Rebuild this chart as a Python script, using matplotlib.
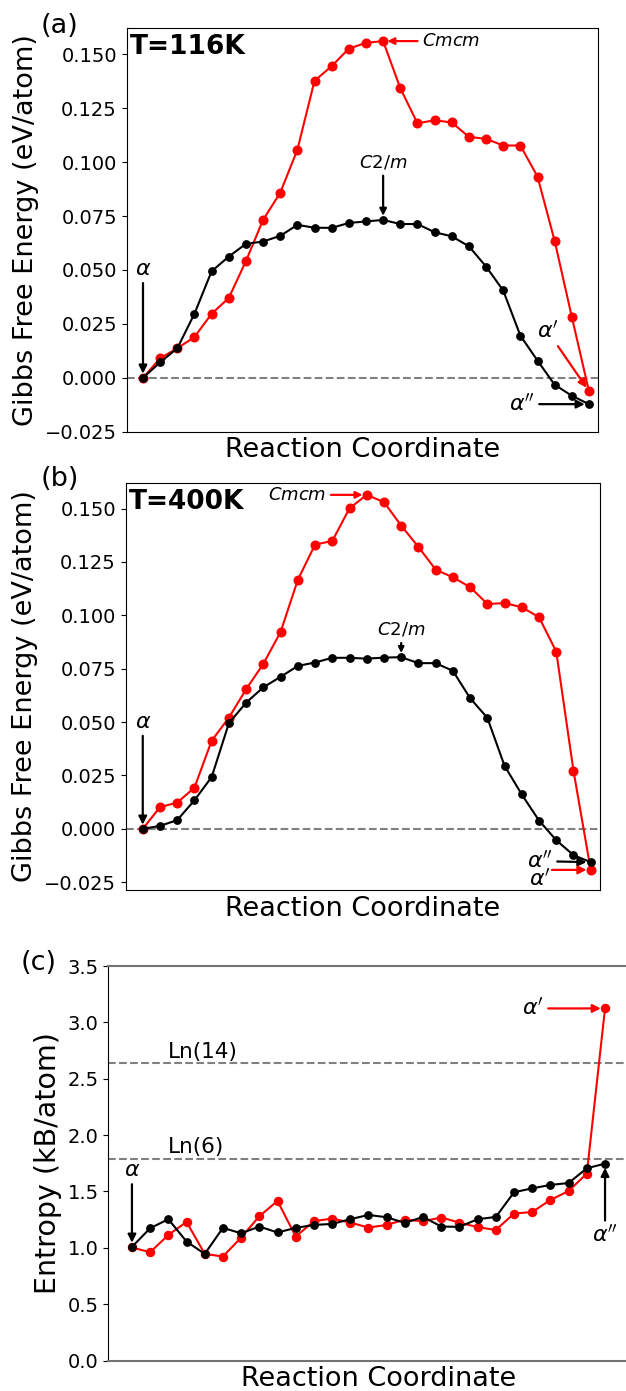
import numpy as np
import matplotlib
matplotlib.use("Agg")
import matplotlib.pyplot as plt

# ---------- data ----------
image = np.arange(27)   # NEB image index along the reaction coordinate

g116_black = [0.0000, 0.0072, 0.0137, 0.0297, 0.0494, 0.0562, 0.0621, 0.0632, 0.0658,
              0.0709, 0.0696, 0.0695, 0.0718, 0.0725, 0.0732, 0.0713, 0.0713, 0.0675,
              0.0656, 0.0610, 0.0516, 0.0405, 0.0196, 0.0080, -0.0032, -0.0083, -0.0122]
g116_red = [0.0000, 0.0091, 0.0137, 0.0189, 0.0297, 0.0370, 0.0541, 0.0732, 0.0858,
            0.1057, 0.1377, 0.1445, 0.1526, 0.1553, 0.1561, 0.1343, 0.1180, 0.1194,
            0.1184, 0.1117, 0.1108, 0.1077, 0.1077, 0.0933, 0.0635, 0.0283, -0.0062]

g400_black = [0.0000, 0.0014, 0.0041, 0.0134, 0.0243, 0.0495, 0.0591, 0.0663, 0.0712,
              0.0763, 0.0779, 0.0801, 0.0801, 0.0797, 0.0802, 0.0804, 0.0776, 0.0776,
              0.0740, 0.0612, 0.0520, 0.0295, 0.0161, 0.0039, -0.0053, -0.0123, -0.0156]
g400_red = [0.0000, 0.0102, 0.0123, 0.0193, 0.0413, 0.0521, 0.0654, 0.0773, 0.0922,
            0.1166, 0.1331, 0.1348, 0.1501, 0.1564, 0.1530, 0.1420, 0.1320, 0.1214,
            0.1178, 0.1132, 0.1053, 0.1057, 0.1038, 0.0991, 0.0830, 0.0272, -0.0192]

s_black = [1.008, 1.174, 1.254, 1.056, 0.946, 1.177, 1.129, 1.189, 1.136, 1.177,
           1.203, 1.212, 1.254, 1.292, 1.271, 1.221, 1.274, 1.189, 1.186, 1.254,
           1.274, 1.493, 1.528, 1.558, 1.575, 1.706, 1.747]
s_red = [1.003, 0.961, 1.114, 1.230, 0.946, 0.923, 1.091, 1.280, 1.416, 1.100,
         1.236, 1.260, 1.224, 1.180, 1.203, 1.251, 1.236, 1.269, 1.224, 1.183,
         1.159, 1.304, 1.318, 1.425, 1.504, 1.659, 3.124]

ln14, ln6 = np.log(14), np.log(6)

# ---------- style ----------
plt.rcParams.update({"font.family": "DejaVu Sans", "font.size": 14,
                     "mathtext.fontset": "dejavusans"})
FS_LAB = 19.5
FS_ANN = 16

fig = plt.figure(figsize=(6.26, 13.91), dpi=100)
axA = fig.add_axes([0.2024, 0.6896, 0.7524, 0.2900])
axB = fig.add_axes([0.2008, 0.3602, 0.7577, 0.2928])
axC = fig.add_axes([0.1730, 0.0219, 0.8650, 0.2836])


def arrow(color, mut=12):
    return dict(arrowstyle="-|>", color=color, lw=1.6, mutation_scale=mut,
                shrinkA=1, shrinkB=3)


def gibbs_panel(ax, black, red, temp, ylim, xlim):
    ax.axhline(0, color="gray", ls="--", lw=1.5, zorder=1)
    ax.plot(image, black, "-o", color="black", ms=5.3, lw=1.5, zorder=3)
    ax.plot(image, red, "-o", color="red", ms=6.2, lw=1.5, zorder=2)
    ax.set_xlim(*xlim)
    ax.set_ylim(*ylim)
    ax.set_xticks([])
    ax.set_yticks(np.arange(-0.025, 0.151, 0.025))
    ax.set_xlabel("Reaction Coordinate", fontsize=FS_LAB)
    ax.set_ylabel("Gibbs Free Energy (eV/atom)", fontsize=FS_LAB)
    ax.text(0.007, 0.985, temp, transform=ax.transAxes, ha="left", va="top",
            fontsize=19, fontweight="bold")


# ===== (a) T=116K =====
gibbs_panel(axA, g116_black, g116_red, "T=116K", (-0.0244, 0.162), (-0.95, 26.51))
axA.annotate(r"$\alpha$", xy=(0, g116_black[0]), xytext=(0, 0.0505),
             ha="center", va="center", fontsize=FS_ANN, arrowprops=arrow("black"))
axA.annotate(r"$C2/m$", xy=(14, g116_black[14]), xytext=(14, 0.0998),
             ha="center", va="center", fontsize=13, arrowprops=arrow("black", 10))
axA.annotate(r"$Cmcm$", xy=(14, g116_red[14]), xytext=(16.25, g116_red[14]),
             ha="left", va="center", fontsize=13, arrowprops=arrow("red", 10))
axA.annotate(r"$\alpha'$", xy=(26, g116_red[26]), xytext=(23.6, 0.0215),
             ha="center", va="center", fontsize=FS_ANN, arrowprops=arrow("red"))
axA.annotate(r"$\alpha''$", xy=(26, g116_black[26]), xytext=(22.1, g116_black[26]),
             ha="center", va="center", fontsize=FS_ANN, arrowprops=arrow("black"))
fig.text(0.095, 0.981, "(a)", ha="center", va="center", fontsize=FS_LAB)

# ===== (b) T=400K =====
gibbs_panel(axB, g400_black, g400_red, "T=400K", (-0.0286, 0.1621), (-0.99, 26.54))
axB.annotate(r"$\alpha$", xy=(0, g400_black[0]), xytext=(0, 0.0502),
             ha="center", va="center", fontsize=FS_ANN, arrowprops=arrow("black"))
axB.annotate(r"$C2/m$", xy=(15, g400_black[15]), xytext=(15, 0.0932),
             ha="center", va="center", fontsize=13, arrowprops=arrow("black", 8))
axB.annotate(r"$Cmcm$", xy=(13, g400_red[13]), xytext=(10.68, g400_red[13]),
             ha="right", va="center", fontsize=13, arrowprops=arrow("red", 10))
axB.annotate(r"$\alpha''$", xy=(26, g400_black[26]), xytext=(23.06, g400_black[26] + 0.0005),
             ha="center", va="center", fontsize=FS_ANN, arrowprops=arrow("black"))
axB.text(23.06, -0.0236, r"$\alpha'$", ha="center", va="center", fontsize=FS_ANN)
axB.annotate("", xy=(26, g400_red[26]), xytext=(23.75, g400_red[26]),
             arrowprops=dict(arrow("red"), shrinkA=0))
fig.text(0.095, 0.656, "(b)", ha="center", va="center", fontsize=FS_LAB)

# ===== (c) entropy =====
axC.axhline(ln14, color="gray", ls="--", lw=1.5, zorder=1)
axC.axhline(ln6, color="gray", ls="--", lw=1.5, zorder=1)
axC.plot(image, s_black, "-o", color="black", ms=5.3, lw=1.5, zorder=3)
axC.plot(image, s_red, "-o", color="red", ms=5.8, lw=1.5, zorder=2)
axC.set_xlim(-1.30, 28.46)
axC.set_ylim(0, 3.5)
axC.set_xticks([])
axC.set_yticks(np.arange(0, 3.51, 0.5))
for s in ("top", "bottom"):
    axC.spines[s].set_color("0.45")
    axC.spines[s].set_linewidth(1.5)
axC.spines["right"].set_visible(False)
axC.set_xlabel("Reaction Coordinate", fontsize=FS_LAB)
axC.set_ylabel("Entropy (kB/atom)", fontsize=20.5)
axC.text(2.0, ln14 + 0.01, "Ln(14)", ha="left", va="bottom", fontsize=15.5)
axC.text(2.0, ln6 + 0.01, "Ln(6)", ha="left", va="bottom", fontsize=15.5)
axC.annotate(r"$\alpha$", xy=(0, s_black[0]), xytext=(0, 1.69),
             ha="center", va="center", fontsize=FS_ANN, arrowprops=arrow("black"))
axC.annotate(r"$\alpha''$", xy=(26, s_black[26]), xytext=(26, 1.11),
             ha="center", va="center", fontsize=FS_ANN, arrowprops=arrow("black"))
axC.annotate(r"$\alpha'$", xy=(26, s_red[26]), xytext=(22.05, s_red[26]),
             ha="center", va="center", fontsize=FS_ANN, arrowprops=arrow("red"))
fig.text(0.061, 0.308, "(c)", ha="center", va="center", fontsize=FS_LAB)

fig.savefig("out.png", dpi=100)
